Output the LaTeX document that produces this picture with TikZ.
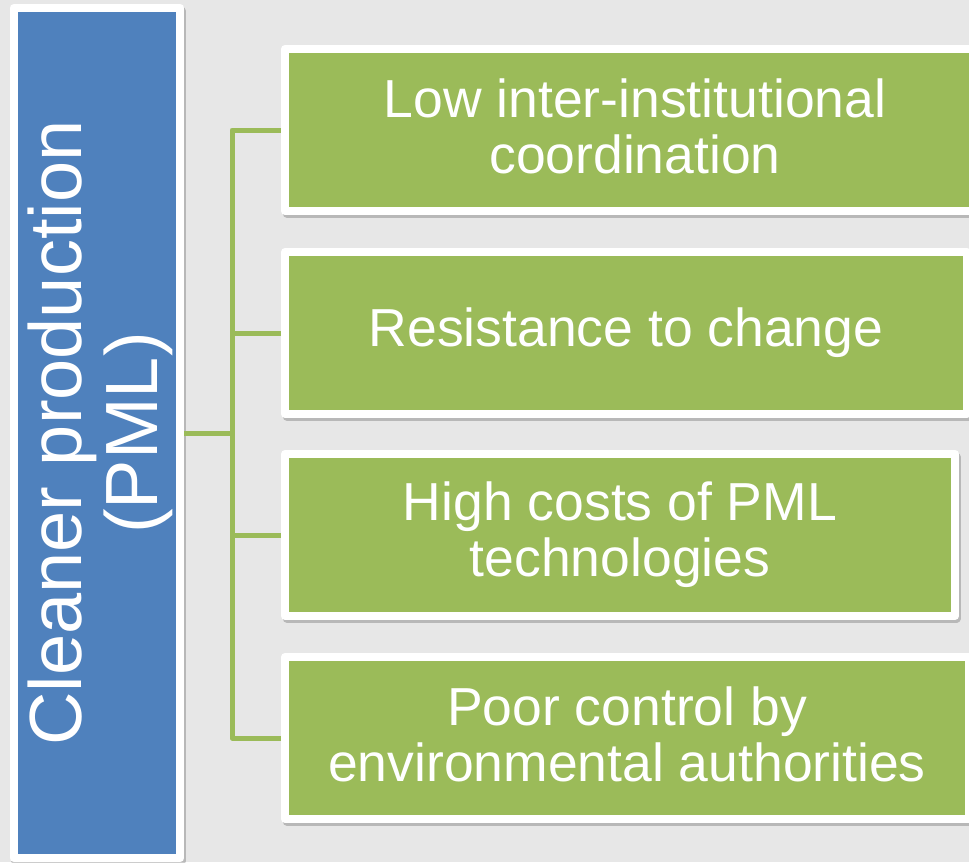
\documentclass[tikz,border=0pt]{standalone}
\usepackage{fontspec}
\setmainfont{Liberation Sans}
\usetikzlibrary{shadows}
\definecolor{bggray}{RGB}{231,231,231}
\definecolor{cpblue}{RGB}{79,129,189}
\definecolor{bargreen}{RGB}{155,187,89}
\newcommand{\lastdepth}{\rule[-8pt]{0pt}{8pt}}
\tikzset{
  boxshadow/.style={drop shadow={fill=black, draw=black, line width=8pt, opacity=0.2,
      shadow xshift=1.5pt, shadow yshift=-2.5pt}},
  cpbox/.style={draw=white, line width=8pt, line join=round, fill=cpblue, text=white,
      boxshadow, minimum width=162pt, minimum height=850pt, inner sep=0pt,
      font=\fontsize{74}{76}\selectfont},
  barrier/.style={draw=white, line width=8pt, line join=round, fill=bargreen, text=white,
      boxshadow, minimum height=162pt, inner sep=0pt, align=center,
      font=\fontsize{53.5}{56}\selectfont},
  link/.style={draw=bargreen, line width=5pt, line join=round}
}
\begin{document}
\begin{tikzpicture}[x=1pt,y=-1pt]
  \useasboundingbox (0,0) rectangle (969,862);
  \fill[bggray] (0,0) rectangle (969,862);
  \clip (0,0) rectangle (969,862);
  % left box
  \node[cpbox] (cp) at (97,433)
    {\hspace*{14pt}\rotatebox{90}{\begin{tabular}{@{}c@{}}Cleaner production\\(PML)\end{tabular}}};
  \coordinate (hub) at (232,433);
  % barriers
  \node[barrier, minimum width=700pt] (b1) at (635,130) {Low inter-institutional\\coordination\lastdepth};
  \node[barrier, minimum width=682pt] (b2) at (626,333) {Resistance to change};
  \node[barrier, minimum width=670pt] (b3) at (620,535) {High costs of PML\\technologies\lastdepth};
  \node[barrier, minimum width=684pt] (b4) at (627,738) {Poor control by\\environmental authorities\lastdepth};
  % connectors
  \draw[link] (cp.east) -- (hub);
  \foreach \b in {b1,b2,b3,b4}
    \draw[link] (hub) |- (\b.west);
\end{tikzpicture}
\end{document}
